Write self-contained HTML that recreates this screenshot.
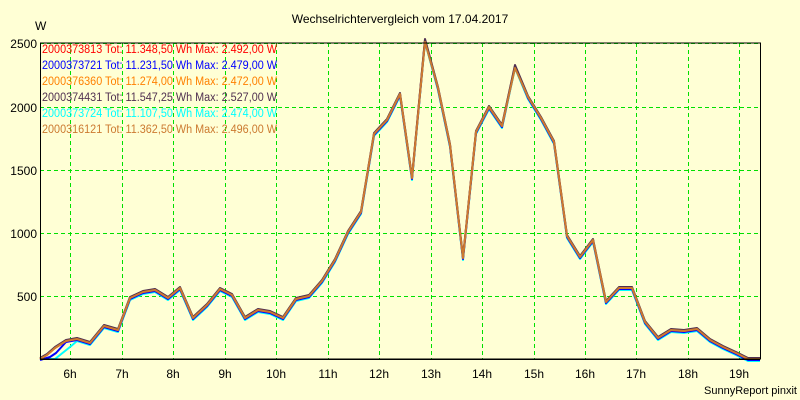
<!DOCTYPE html>
<html><head><meta charset="utf-8"><style>
body{margin:0;background:#ffffd5;}
svg{display:block;font-family:"Liberation Sans",sans-serif;}
</style></head><body>
<svg width="800" height="400" viewBox="0 0 800 400">
<rect width="800" height="400" fill="#ffffd5"/>
<text x="400" y="23" font-size="12" text-anchor="middle">Wechselrichtervergleich vom 17.04.2017</text>
<text x="35" y="30" font-size="12">W</text>
<g stroke="#00e000" stroke-width="1" stroke-dasharray="4,3">
<line x1="40" y1="43.5" x2="760" y2="43.5"/><line x1="40" y1="107.5" x2="760" y2="107.5"/><line x1="40" y1="170.5" x2="760" y2="170.5"/><line x1="40" y1="233.5" x2="760" y2="233.5"/><line x1="40" y1="296.5" x2="760" y2="296.5"/>
<line x1="70.5" y1="43" x2="70.5" y2="359"/><line x1="122.5" y1="43" x2="122.5" y2="359"/><line x1="173.5" y1="43" x2="173.5" y2="359"/><line x1="225.5" y1="43" x2="225.5" y2="359"/><line x1="276.5" y1="43" x2="276.5" y2="359"/><line x1="328.5" y1="43" x2="328.5" y2="359"/><line x1="379.5" y1="43" x2="379.5" y2="359"/><line x1="431.5" y1="43" x2="431.5" y2="359"/><line x1="482.5" y1="43" x2="482.5" y2="359"/><line x1="534.5" y1="43" x2="534.5" y2="359"/><line x1="585.5" y1="43" x2="585.5" y2="359"/><line x1="636.5" y1="43" x2="636.5" y2="359"/><line x1="688.5" y1="43" x2="688.5" y2="359"/><line x1="739.5" y1="43" x2="739.5" y2="359"/>
</g>
<g font-size="12" text-anchor="end">
<text x="37" y="48">2500</text><text x="37" y="112">2000</text><text x="37" y="175">1500</text><text x="37" y="238">1000</text><text x="37" y="301">500</text>
</g>
<g font-size="12" text-anchor="middle">
<text x="70" y="378">6h</text><text x="122" y="378">7h</text><text x="173" y="378">8h</text><text x="225" y="378">9h</text><text x="276" y="378">10h</text><text x="328" y="378">11h</text><text x="379" y="378">12h</text><text x="431" y="378">13h</text><text x="482" y="378">14h</text><text x="534" y="378">15h</text><text x="585" y="378">16h</text><text x="636" y="378">17h</text><text x="688" y="378">18h</text><text x="739" y="378">19h</text>
</g>
<text x="797" y="394" font-size="11" text-anchor="end">SunnyReport pinxit</text>
<g fill="none" stroke-width="2" stroke-linejoin="round">
<polyline stroke="#00ffff" transform="translate(0,2)" points="40,357 55,357 60,353 70,345 77,339 90,343 104,326 118,330 130,298 143,292 155,290 168,298 180,288 193,318 207,305 220,289 232,295 245,318 258,310 270,312 283,318 296,299 309,296 322,281 335,260 348,232 361,212 374,134 387,120 400,94 412,178 425,40 438,88 450,145 463,258 476,132 489,107 502,126 515,66 528,97 541,118 554,142 567,236 580,257 593,240 606,302 619,288 632,288 645,322 658,338 671,330 684,331 697,329 710,340 723,347 736,353 748,359 760,359"/>
<polyline stroke="#0000ff" transform="translate(0,1)" points="40,359 50,356 56,352 66,341 77,339 90,343 104,326 118,330 130,298 143,292 155,290 168,298 180,288 193,318 207,305 220,289 232,295 245,318 258,310 270,312 283,318 296,299 309,296 322,281 335,260 348,232 361,212 374,134 387,120 400,94 412,178 425,40 438,88 450,145 463,258 476,132 489,107 502,126 515,66 528,97 541,118 554,142 567,236 580,257 593,240 606,302 619,288 632,288 645,322 658,338 671,330 684,331 697,329 710,340 723,347 736,353 748,359 760,359"/>
<polyline stroke="#ff0000" points="40,359 47,355 55,348 66,341 77,339 90,343 104,326 118,330 130,298 143,292 155,290 168,298 180,288 193,318 207,305 220,289 232,295 245,318 258,310 270,312 283,318 296,299 309,296 322,281 335,260 348,232 361,212 374,134 387,120 400,94 412,178 425,40 438,88 450,145 463,258 476,132 489,107 502,126 515,66 528,97 541,118 554,142 567,236 580,257 593,240 606,302 619,288 632,288 645,322 658,338 671,330 684,331 697,329 710,340 723,347 736,353 748,359 760,359"/>
<polyline stroke="#503050" transform="translate(0,-1)" points="40,359 47,355 55,348 66,341 77,339 90,343 104,326 118,330 130,298 143,292 155,290 168,298 180,288 193,318 207,305 220,289 232,295 245,318 258,310 270,312 283,318 296,299 309,296 322,281 335,260 348,232 361,212 374,134 387,120 400,94 412,178 425,40 438,88 450,145 463,258 476,132 489,107 502,126 515,66 528,97 541,118 554,142 567,236 580,257 593,240 606,302 619,288 632,288 645,322 658,338 671,330 684,331 697,329 710,340 723,347 736,353 748,359 760,359"/>
<polyline stroke="#cc7a30" points="40,359 47,355 55,348 66,341 77,339 90,343 104,326 118,330 130,298 143,292 155,290 168,298 180,288 193,318 207,305 220,289 232,295 245,318 258,310 270,312 283,318 296,299 309,296 322,281 335,260 348,232 361,212 374,134 387,120 400,94 412,178 425,42 438,88 450,145 463,258 476,132 489,107 502,126 515,68 528,97 541,118 554,142 567,236 580,257 593,240 606,302 619,288 632,288 645,322 658,338 671,330 684,331 697,329 710,340 723,347 736,353 748,359 760,359"/>
</g>
<rect x="40.5" y="43" width="720" height="316" fill="none" stroke="#000" stroke-width="1"/>
<line x1="40" y1="359.5" x2="760" y2="359.5" stroke="#000" stroke-width="1"/>
<g font-size="11.5">
<text x="42" y="53" fill="#ff0000" textLength="235" lengthAdjust="spacingAndGlyphs">2000373813 Tot: 11.348,50 Wh Max: 2.492,00 W</text>
<text x="42" y="69" fill="#0000ff" textLength="235" lengthAdjust="spacingAndGlyphs">2000373721 Tot: 11.231,50 Wh Max: 2.479,00 W</text>
<text x="42" y="85" fill="#ff8000" textLength="235" lengthAdjust="spacingAndGlyphs">2000376360 Tot: 11.274,00 Wh Max: 2.472,00 W</text>
<text x="42" y="101" fill="#503050" textLength="235" lengthAdjust="spacingAndGlyphs">2000374431 Tot: 11.547,25 Wh Max: 2.527,00 W</text>
<text x="42" y="117" fill="#00ffff" textLength="235" lengthAdjust="spacingAndGlyphs">2000373724 Tot: 11.107,50 Wh Max: 2.474,00 W</text>
<text x="42" y="133" fill="#cc7a30" textLength="235" lengthAdjust="spacingAndGlyphs">2000316121 Tot: 11.362,50 Wh Max: 2.496,00 W</text>
</g>
</svg>
</body></html>
